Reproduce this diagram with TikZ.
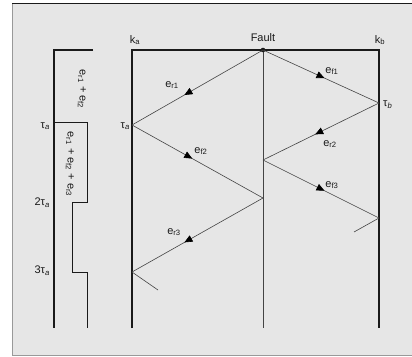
\documentclass[tikz,border=0pt]{standalone}
\usepackage{fontspec}
\setmainfont{Liberation Sans}
\usetikzlibrary{decorations.markings,arrows.meta}
\definecolor{bg}{HTML}{E6E6E6}
\definecolor{ln}{HTML}{1A1A1A}
\definecolor{thin}{HTML}{444444}
\tikzset{
  heavy/.style={draw=ln,line width=1.2pt},
  light/.style={draw=thin,line width=0.6pt},
  wave/.style={draw=thin,line width=0.6pt,postaction={decorate},
    decoration={markings,mark=at position #1 with {\arrow[black]{Triangle[length=8pt,width=7pt]}}}},
  lbl/.style={inner sep=0pt,font=\fontsize{11}{13}\selectfont,text=ln},
}
\newcommand{\ee}[1]{e\textsubscript{#1}}
\newcommand{\ta}[1]{#1τ\textsubscript{\textit{a}}}
\begin{document}
\begin{tikzpicture}[x=1pt,y=-1pt]
\useasboundingbox (0,0) rectangle (412,356);
\fill[white] (0,0) rectangle (412,356);
\draw[fill=bg,draw=gray!80,line width=0.8pt] (12,3) rectangle (414,355);
\draw[draw=ln,line width=0.8pt] (12,3) -- (414,3);
% coordinates
\coordinate (kaT) at (132,50);
\coordinate (kaB) at (132,328);
\coordinate (F) at (263,50);
\coordinate (FB) at (263,328);
\coordinate (kbT) at (379,50);
\coordinate (kbB) at (379,328);
\coordinate (A1) at (132,125);
\coordinate (A2) at (132,272);
\coordinate (A3) at (158,290);
\coordinate (F1) at (263,198);
\coordinate (F2) at (263,160);
\coordinate (B1) at (379,103);
\coordinate (B2) at (379,218);
\coordinate (B3) at (354,232);
% lines
\draw[heavy] (kaB) -- (kaT) -- (kbT) -- (kbB);
\draw[light] (F) -- (FB);
\fill[ln] (F) circle (2.3pt);
% zigzags
\draw[wave=0.6] (F) -- (A1);
\draw[wave=0.46] (A1) -- (F1);
\draw[wave=0.6] (F1) -- (A2);
\draw[light] (A2) -- (A3);
\draw[wave=0.53] (F) -- (B1);
\draw[wave=0.55] (B1) -- (F2);
\draw[wave=0.53] (F2) -- (B2);
\draw[light] (B2) -- (B3);
% left step plot
\coordinate (S0) at (93,50);
\coordinate (S1) at (54,50);
\coordinate (S2) at (54,328);
\draw[heavy] (S0) -- (S1) -- (S2);
\draw[draw=ln,line width=0.7pt] (54,122) -- (87,122) -- (87,202) -- (72,202) -- (72,272) -- (87,272) -- (87,328);
% labels
\node[lbl] (lka) at (135,40) {k\textsubscript{a}};
\node[lbl] (lfault) at (263,38) {Fault};
\node[lbl] (lkb) at (380,40) {k\textsubscript{b}};
\node[lbl,anchor=east] (lta) at (130,126) {\ta{}};
\node[lbl,anchor=west] (ltb) at (383,105) {τ\textsubscript{\textit{b}}};
\node[lbl,anchor=east] (lt1) at (50,126) {\ta{}};
\node[lbl,anchor=east] (lt2) at (50,203) {\ta{2}};
\node[lbl,anchor=east] (lt3) at (50,271) {\ta{3}};
\node[lbl] (er1) at (172,85) {\ee{r1}};
\node[lbl] (ef2) at (201,151) {\ee{f2}};
\node[lbl] (er3) at (174,232) {\ee{r3}};
\node[lbl] (ef1) at (332,71) {\ee{f1}};
\node[lbl] (er2) at (330,144) {\ee{r2}};
\node[lbl] (ef3) at (332,185) {\ee{f3}};
\node[lbl,rotate=-90] (s1) at (82,89) {\ee{r1} + \ee{f2}};
\node[lbl,rotate=-90] (s2) at (70,164) {\ee{r1} + \ee{f2} + \ee{r3}};
\end{tikzpicture}
\end{document}
